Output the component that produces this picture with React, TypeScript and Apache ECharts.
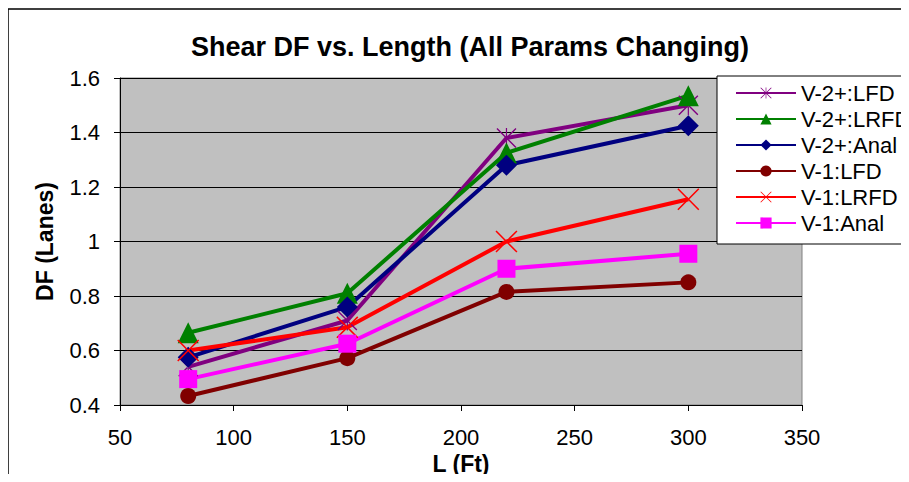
import React, { useEffect, useRef } from "react";
import * as echarts from "echarts";

// Span length (ft) for each data point
const lengths = [80, 150, 220, 300];

// Shear distribution factors per method
const v2LFD = [0.54, 0.71, 1.38, 1.5];
const v2LRFD = [0.665, 0.81, 1.325, 1.535];
const v2Anal = [0.575, 0.76, 1.28, 1.425];
const v1LFD = [0.433, 0.572, 0.815, 0.85];
const v1LRFD = [0.6, 0.685, 1.0, 1.155];
const v1Anal = [0.495, 0.625, 0.9, 0.955];

const seriesNames = [
  "V-2+:LFD",
  "V-2+:LRFD",
  "V-2+:Anal",
  "V-1:LFD",
  "V-1:LRFD",
  "V-1:Anal",
];

const FONT = "'Liberation Sans', Arial, sans-serif";

// Thin filled outlines for the "x" and asterisk markers
const CROSS =
  "path://M0,5L5,0L50,45L95,0L100,5L55,50L100,95L95,100L50,55L5,100L0,95L45,50Z";
const STAR = CROSS.replace("Z", "Z") + "M47,0L47,100L53,100L53,0Z";

type Spec = {
  values: number[];
  color: string;
  symbol: string;
  size: number;
};

const specs: Spec[] = [
  { values: v2LFD, color: "#800080", symbol: STAR, size: 20 },
  { values: v2LRFD, color: "#008000", symbol: "triangle", size: 21 },
  { values: v2Anal, color: "#000080", symbol: "diamond", size: 21 },
  { values: v1LFD, color: "#800000", symbol: "circle", size: 16 },
  { values: v1LRFD, color: "#FF0000", symbol: CROSS, size: 22 },
  { values: v1Anal, color: "#FF00FF", symbol: "rect", size: 18 },
];

export default function App() {
  const ref = useRef<HTMLDivElement>(null);

  useEffect(() => {
    if (!ref.current) return;
    const chart = echarts.init(ref.current, null, { renderer: "svg" });

    const series = specs.map((s, i) => ({
      name: seriesNames[i],
      type: "line",
      data: lengths.map((x, j) => [x, s.values[j]]),
      symbol: s.symbol,
      symbolSize: s.size,
      showAllSymbol: true,
      lineStyle: { color: s.color, width: 4 },
      itemStyle: { color: s.color, borderWidth: 0 },
      emphasis: { disabled: true },
    }));

    chart.setOption({
      animation: false,
      textStyle: { fontFamily: FONT },
      title: {
        text: "Shear DF vs. Length (All Params Changing)",
        left: 465,
        top: 28,
        textAlign: "center",
        textStyle: {
          fontFamily: FONT,
          fontSize: 27,
          fontWeight: "bold",
          color: "#000",
        },
      },
      graphic: [
        {
          type: "rect",
          shape: { x: 8, y: 9, width: 1200, height: 1200 },
          style: { fill: "none", stroke: "#000", lineWidth: 1.5 },
          silent: true,
          z: 0,
        },
      ],
      legend: {
        orient: "vertical",
        left: 717,
        top: 76,
        data: seriesNames,
        backgroundColor: "#fff",
        borderColor: "#000",
        borderWidth: 1,
        padding: [6, 40, 10, 18],
        itemWidth: 60,
        itemHeight: 14,
        itemGap: 4,
        textStyle: { fontFamily: FONT, fontSize: 22, color: "#000" },
        selectedMode: false,
      },
      grid: {
        left: 120,
        right: 107,
        top: 78,
        bottom: 77,
        show: true,
        backgroundColor: "#C0C0C0",
        borderColor: "#808080",
        borderWidth: 1,
      },
      xAxis: {
        type: "value",
        min: 50,
        max: 350,
        interval: 50,
        name: "L (Ft)",
        nameLocation: "middle",
        nameGap: 45,
        nameTextStyle: { fontFamily: FONT, fontSize: 23, fontWeight: "bold", color: "#000" },
        axisLine: { show: true, lineStyle: { color: "#000", width: 1 } },
        axisTick: { show: true, inside: false, length: 6, lineStyle: { color: "#000" } },
        axisLabel: { fontFamily: FONT, fontSize: 22, color: "#000", margin: 21 },
        splitLine: { show: false },
      },
      yAxis: {
        type: "value",
        min: 0.4,
        max: 1.6,
        interval: 0.2,
        name: "DF (Lanes)",
        nameLocation: "middle",
        nameGap: 64,
        nameTextStyle: { fontFamily: FONT, fontSize: 23, fontWeight: "bold", color: "#000" },
        axisLine: { show: true, lineStyle: { color: "#000", width: 1 } },
        axisTick: { show: true, inside: false, length: 6, lineStyle: { color: "#000" } },
        axisLabel: {
          fontFamily: FONT,
          fontSize: 22,
          color: "#000",
          margin: 20,
          formatter: (v: number) => String(parseFloat(v.toFixed(1))),
        },
        splitLine: { show: true, lineStyle: { color: "#000", width: 1 } },
      },
      series,
    });

    return () => chart.dispose();
  }, []);

  return <div ref={ref} style={{ width: 909, height: 482, margin: -8 }} />;
}
